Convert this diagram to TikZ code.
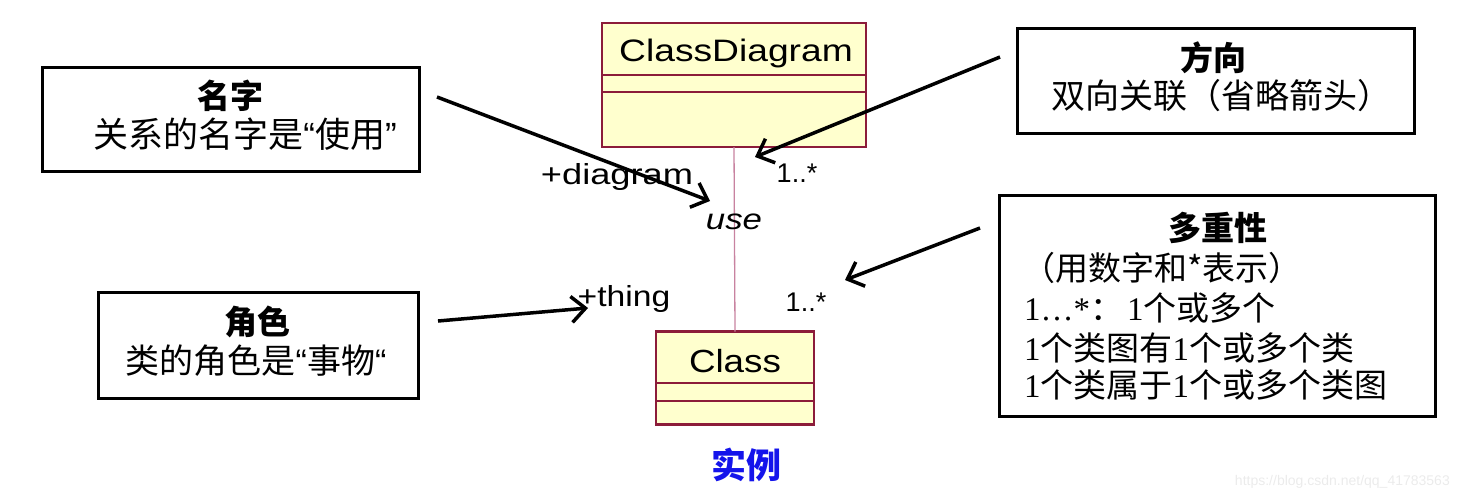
\documentclass[tikz,border=0pt]{standalone}
\usepackage{fontspec}
\setmainfont{Liberation Sans}
\newfontfamily\cjk{Noto Sans CJK SC}
\newfontfamily\serifnum{Liberation Serif}
\usetikzlibrary{arrows.meta,calc}
\definecolor{umlborder}{RGB}{140,28,58}
\definecolor{umlfill}{RGB}{255,255,206}
\definecolor{assocline}{RGB}{200,130,160}
\definecolor{exblue}{RGB}{20,20,235}
\newcommand{\wide}[2]{\scalebox{#1}[1]{#2}}
\newcommand{\myopq}{{\rmfamily “}}
\newcommand{\myclq}{{\rmfamily ”}}
\tikzset{
  umlbox/.style={draw=umlborder, fill=umlfill, line width=2.5pt, inner sep=0pt, outer sep=0pt},
  umldiv/.style={draw=umlborder, line width=1.5pt},
  notebox/.style={draw=black, line width=3pt, fill=white, inner sep=0pt, outer sep=0pt},
  notetitle/.style={inner sep=0pt, font=\cjk\bfseries\fontsize{33}{38}\selectfont},
  notetext/.style={inner sep=0pt, font=\cjk\fontsize{34}{38}\selectfont},
  multext/.style={inner sep=0pt, anchor=west, font=\cjk\fontsize{33}{37}\selectfont},
  umltext/.style={inner sep=0pt, font=\fontsize{29}{34}\selectfont},
  endtext/.style={inner sep=0pt, font=\fontsize{27}{30}\selectfont},
  callout/.style={draw=black, line width=3.5pt, -{Straight Barb[length=14pt,width=26pt]}},
  assoc/.style={draw=assocline, line width=1.3pt}
}
\begin{document}
\begin{tikzpicture}[x=1pt,y=-1pt]
\useasboundingbox (0,0) rectangle (1458,499);
% UML class boxes
\node[umlbox, minimum width=264pt, minimum height=124pt] (cd) at (734,85) {};
\node[umltext, font=\fontsize{31}{36}\selectfont] (cdname) at (736,53) {\wide{1.2}{ClassDiagram}};
\draw[umldiv] (cd.west |- 0,75) -- (cd.east |- 0,75);
\draw[umldiv] (cd.west |- 0,92) -- (cd.east |- 0,92);
\node[umlbox, minimum width=158pt, minimum height=93pt] (cls) at (735,378) {};
\node[umltext, font=\fontsize{32}{36}\selectfont] (clsname) at (735,361) {\wide{1.15}{Class}};
\draw[umldiv] (cls.west |- 0,383) -- (cls.east |- 0,383);
\draw[umldiv] (cls.west |- 0,401) -- (cls.east |- 0,401);
% association
\draw[assoc] (cd.south) -- (cls.north);
\node[umltext] (use) at (734,222) {\wide{1.2}{\itshape use}};
\node[umltext] (rdiag) at (617,177) {\wide{1.25}{+diagram}};
\node[endtext] (m1) at (797,173) {1..*};
\node[umltext] (rthing) at (624,299) {\wide{1.16}{+thing}};
\node[endtext] (m2) at (806,302) {1..*};
% note boxes
\node[notebox, minimum width=377pt, minimum height=104pt] (nname) at (231,119) {};
\node[notetitle] (nnamet) at (230,96) {名字};
\node[notetext, font=\cjk\fontsize{35}{38}\selectfont] (nnamel) at (245,134) {关系的名字是\myopq 使用\myclq};
\node[notebox, minimum width=320pt, minimum height=106pt] (nrole) at (258,345) {};
\node[notetitle] (nrolet) at (257,322) {角色};
\node[notetext] (nrolel) at (256,361) {类的角色是\myopq 事物\myopq};
\node[notebox, minimum width=397pt, minimum height=105pt] (ndir) at (1216,81) {};
\node[notetitle] (ndirt) at (1213,58) {方向};
\node[notetext] (ndirl) at (1221,96) {双向关联（省略箭头）};
\node[notebox, minimum width=436pt, minimum height=221pt] (nmul) at (1217,306) {};
\node[notetitle] (nmult) at (1218,228) {多重性};
\node[multext] (nmul1) at (1022,268) {（用数字和*表示）};
\node[multext] (nmul2) at (1024,308) {{\serifnum 1…*}：\hspace{4pt}{\serifnum 1}个或多个};
\node[multext] (nmul3) at (1024,348) {{\serifnum 1}个类图有{\serifnum 1}个或多个类};
\node[multext] (nmul4) at (1024,385) {{\serifnum 1}个类属于{\serifnum 1}个或多个类图};
% arrows
\coordinate (a1s) at (437,97);
\coordinate (a1e) at (710,201);
\coordinate (a2s) at (1000,57);
\coordinate (a2e) at (755,157);
\coordinate (a3s) at (980,228);
\coordinate (a3e) at (845,280);
\coordinate (a4s) at (438,321);
\coordinate (a4e) at (588,308);
\draw[callout] (a1s) -- (a1e);
\draw[callout] (a2s) -- (a2e);
\draw[callout] (a3s) -- (a3e);
\draw[callout] (a4s) -- (a4e);
% caption
\node[inner sep=0pt, text=exblue, font=\cjk\bfseries\fontsize{35}{40}\selectfont] (cap) at (746,465) {实例};
\node[inner sep=0pt, anchor=east, text=black!8, font=\fontsize{14}{16}\selectfont] (wm) at (1450,482) {https://blog.csdn.net/qq\_41783563};
\end{tikzpicture}
\end{document}
